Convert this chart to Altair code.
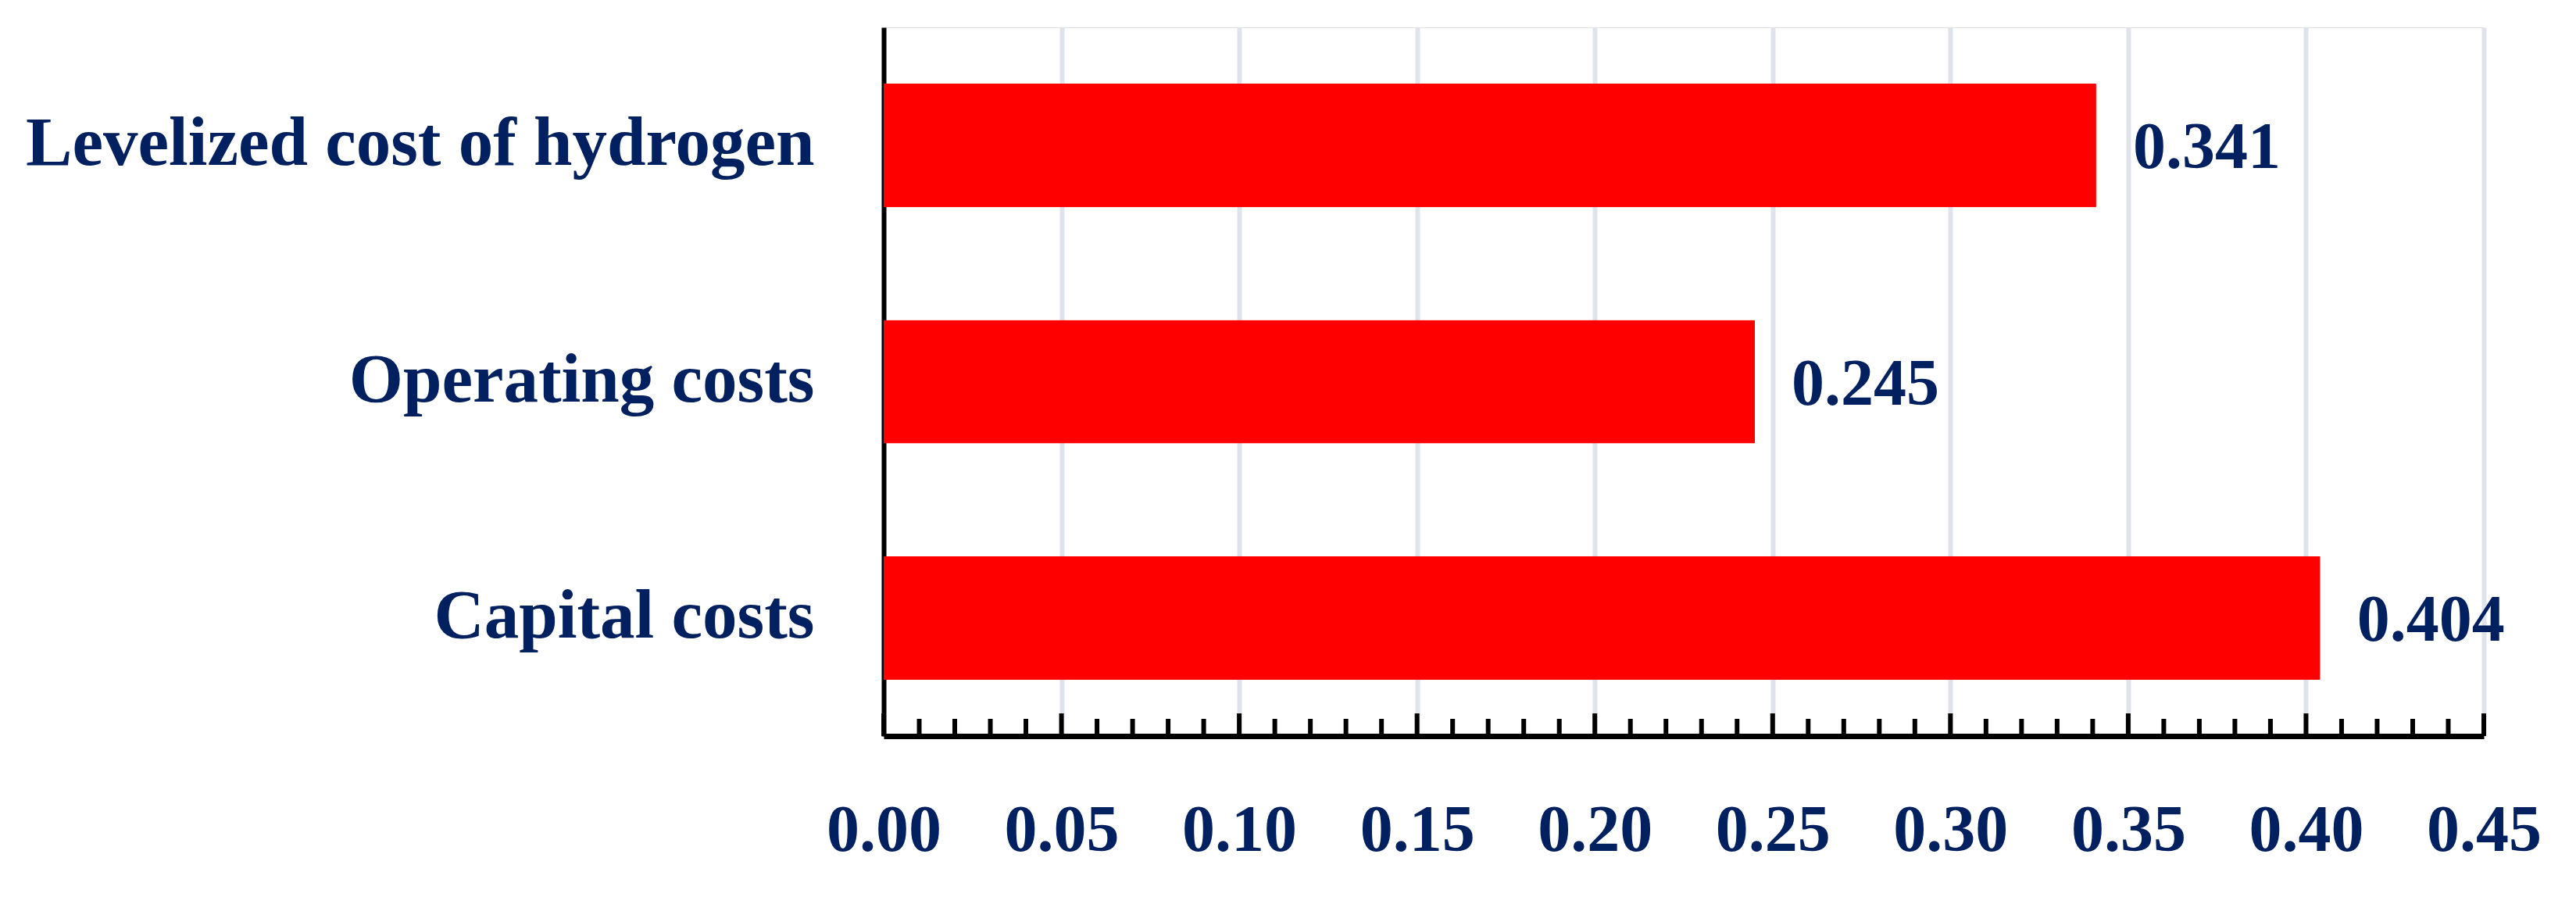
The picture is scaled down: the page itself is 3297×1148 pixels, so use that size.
import altair as alt
import pandas as pd

categories = ["Levelized cost of hydrogen", "Operating costs", "Capital costs"]
values = [0.341, 0.245, 0.404]
value_labels = ["0.341", "0.245", "0.404"]
major_ticks = [0.00, 0.05, 0.10, 0.15, 0.20, 0.25, 0.30, 0.35, 0.40, 0.45]
minor_ticks = [0.01, 0.02, 0.03, 0.04, 0.06, 0.07, 0.08, 0.09,
               0.11, 0.12, 0.13, 0.14, 0.16, 0.17, 0.18, 0.19,
               0.21, 0.22, 0.23, 0.24, 0.26, 0.27, 0.28, 0.29,
               0.31, 0.32, 0.33, 0.34, 0.36, 0.37, 0.38, 0.39,
               0.41, 0.42, 0.43, 0.44]

W, H = 2048, 907
NAVY = "#002060"
FONT = "Liberation Serif"

df = pd.DataFrame({"cat": categories, "val": values, "lab": value_labels})
df_major = pd.DataFrame({"t": major_ticks})
df_minor = pd.DataFrame({"t": minor_ticks})

xscale = alt.Scale(domain=[0, 0.45], nice=False, zero=True)
yscale = alt.Scale(paddingInner=0.477, paddingOuter=0.238)

bars = alt.Chart(df).mark_bar(color="#FF0000", cornerRadius=1).encode(
    x=alt.X("val:Q", scale=xscale,
            axis=alt.Axis(values=major_ticks, format=".2f", title=None,
                          grid=True, gridColor="#DFE3EB", gridWidth=6,
                          ticks=False, domain=True, domainColor="black",
                          domainWidth=7, labelPadding=80,
                          labelFont=FONT, labelFontSize=84, labelFontWeight="bold",
                          labelColor=NAVY, labelFlush=False)),
    y=alt.Y("cat:N", sort=categories, scale=yscale,
            axis=alt.Axis(title=None, ticks=False, grid=False, domain=True,
                          domainColor="black", domainWidth=6, labelPadding=89,
                          labelFont=FONT, labelFontSize=89, labelFontWeight="bold",
                          labelColor=NAVY, labelLimit=2000, labelOffset=-2)),
)

texts = alt.Chart(df).mark_text(
    align="left", baseline="middle", dx=47, dy=4,
    font=FONT, fontSize=84, fontWeight="bold", color=NAVY
).encode(
    x=alt.X("val:Q", scale=xscale),
    y=alt.Y("cat:N", sort=categories, scale=yscale),
    text="lab:N",
)

minor = alt.Chart(df_minor).mark_rule(color="black", strokeWidth=6).encode(
    x=alt.X("t:Q", scale=xscale),
    y=alt.value(H - 22),
    y2=alt.value(H),
)

major = alt.Chart(df_major).mark_rule(color="black", strokeWidth=6).encode(
    x=alt.X("t:Q", scale=xscale),
    y=alt.value(H - 29),
    y2=alt.value(H),
)

chart = alt.layer(bars, minor, major, texts).properties(
    width=W, height=H,
    autosize=alt.AutoSizeParams(type="none"),
    padding={"left": 1123, "top": 27, "right": 110, "bottom": 198},
).configure_view(stroke=None).configure(background="white")

chart.save("out.html", embed_options={"renderer": "svg", "actions": False})
